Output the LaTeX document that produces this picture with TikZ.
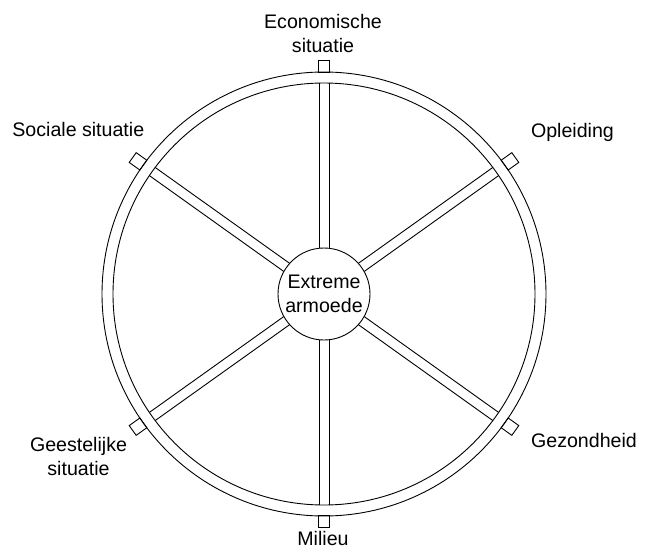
\documentclass[tikz,border=0pt]{standalone}
\usepackage{fontspec}
\setmainfont{Liberation Sans}
\begin{document}
\begin{tikzpicture}[x=1pt,y=-1pt,line width=0.9pt,
  lbl/.style={font=\fontsize{19.6}{23.4}\selectfont, inner sep=0pt, align=center},
  ring/.style={draw=black},
  spokeline/.style={draw=black},
  stub/.style={draw=black}]
\useasboundingbox (0,0) rectangle (662,560);
\coordinate (c) at (324,294);
\draw[ring] (c) circle[radius=222pt];
\draw[ring] (c) circle[radius=211pt];
\foreach \a in {90,270}{
 \begin{scope}[shift={(c)}, rotate=\a]
  \draw[spokeline] (45.7,5) -- (210.9,5) (45.7,-5) -- (210.9,-5);
  \draw[stub] (221.9,-5.5) rectangle (233.5,5.5);
 \end{scope}
}
\foreach \a in {35.5,144.5,-35.5,-144.5}{
 \begin{scope}[shift={(c)}, rotate=\a]
  \draw[spokeline] (45.7,5) -- (210.9,5) (45.7,-5) -- (210.9,-5);
  \draw[stub] (221.9,-6) rectangle (235,6);
 \end{scope}
}
\node[circle, draw, minimum size=92pt, fill=white, lbl] (hub) at (c) {Extreme\\armoede};
\node[lbl] (eco) at (323,33.5) {Economische\\situatie};
\node[lbl, anchor=base] (soc) at (78.3,136.7) {Sociale situatie};
\node[lbl, anchor=base] (opl) at (572.5,137) {Opleiding};
\node[lbl] (gee) at (78.5,456.5) {Geestelijke\\situatie};
\node[lbl, anchor=base] (gez) at (584,447.3) {Gezondheid};
\node[lbl, anchor=base] (mil) at (323,545) {Milieu};
\end{tikzpicture}
\end{document}
